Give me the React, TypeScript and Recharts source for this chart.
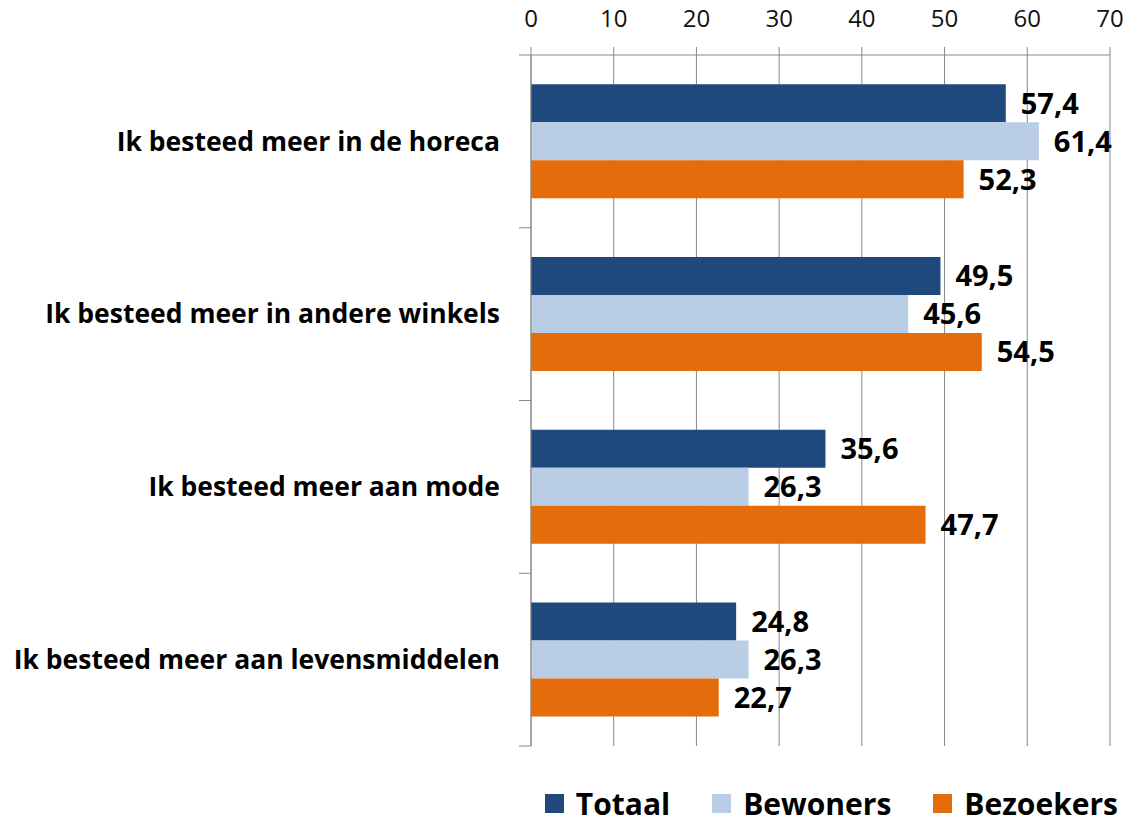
import React from 'react';
import { BarChart, Bar, XAxis, YAxis, CartesianGrid, Legend, LabelList } from 'recharts';

const categories = [
  'Ik besteed meer in de horeca',
  'Ik besteed meer in andere winkels',
  'Ik besteed meer aan mode',
  'Ik besteed meer aan levensmiddelen',
];
const totaal = [57.4, 49.5, 35.6, 24.8];
const bewoners = [61.4, 45.6, 26.3, 26.3];
const bezoekers = [52.3, 54.5, 47.7, 22.7];
const xTicks = [0, 10, 20, 30, 40, 50, 60, 70];

const series = [
  { key: 'totaal', name: 'Totaal', color: '#1F497D' },
  { key: 'bewoners', name: 'Bewoners', color: '#B9CDE5' },
  { key: 'bezoekers', name: 'Bezoekers', color: '#E46C0A' },
];

const data = categories.map((name, i) => ({
  name,
  totaal: totaal[i],
  bewoners: bewoners[i],
  bezoekers: bezoekers[i],
}));

const font = '"Open Sans", sans-serif';
const fmt = (v: any) => Number(v).toFixed(1).replace('.', ',');

// category label plus the short tick marks at the band edges
const CategoryTick = (props: any) => {
  const { x, y, payload, index } = props;
  const half = payload && payload.offset ? payload.offset : 0;
  const axisX = x + 31;
  return (
    <g>
      <text x={x} y={y} dy="0.35em" textAnchor="end" fill="#000" fontSize={26.5} fontWeight={700} fontFamily={font}>
        {payload.value}
      </text>
      <line x1={axisX - 12} x2={axisX} y1={y - half} y2={y - half} stroke="#888" />
      {index === categories.length - 1 && (
        <line x1={axisX - 12} x2={axisX} y1={y + half} y2={y + half} stroke="#888" />
      )}
    </g>
  );
};

const LegendContent = () => (
  <div
    style={{
      display: 'flex',
      justifyContent: 'flex-end',
      alignItems: 'center',
      fontFamily: font,
      fontWeight: 700,
      fontSize: 30,
      lineHeight: '41px',
      color: '#000',
      height: 41,
      whiteSpace: 'nowrap',
    }}
  >
    {series.map((s, i) => (
      <div key={s.key} style={{ display: 'flex', alignItems: 'center', marginLeft: i === 0 ? 0 : 42 }}>
        <span style={{ display: 'inline-block', width: 19, height: 19, background: s.color, marginRight: 12 }} />
        <span>{s.name}</span>
      </div>
    ))}
  </div>
);

const App: React.FC = () => {
  return (
    <div style={{ position: 'absolute', left: 0, top: 0, width: 1126, height: 825, background: '#fff' }}>
      <BarChart
        width={1126}
        height={825}
        data={data}
        layout="vertical"
        barCategoryGap="17%"
        barGap={0}
        margin={{ top: 0, right: 16, left: 0, bottom: 38 }}
      >
        <CartesianGrid horizontal={false} stroke="#888" />
        <XAxis
          type="number"
          orientation="top"
          domain={[0, 70]}
          ticks={xTicks}
          height={55}
          tickSize={8}
          tickMargin={20}
          stroke="#888"
          tick={{ fill: '#111', fontSize: 24, fontFamily: font }}
        />
        <YAxis
          type="category"
          dataKey="name"
          width={531}
          stroke="#888"
          tickLine={false}
          tickMargin={25}
          tick={<CategoryTick />}
        />
        {series.map((s) => (
          <Bar key={s.key} dataKey={s.key} name={s.name} fill={s.color} isAnimationActive={false}>
            <LabelList
              dataKey={s.key}
              position="right"
              offset={15}
              formatter={fmt}
              style={{ fill: '#000', fontSize: 29, fontWeight: 700, fontFamily: font }}
            />
          </Bar>
        ))}
        <Legend
          verticalAlign="bottom"
          align="right"
          content={<LegendContent />}
          wrapperStyle={{ top: 783, left: 480, right: 'auto', bottom: 'auto', width: 638, height: 41 }}
        />
      </BarChart>
    </div>
  );
};

export default App;
